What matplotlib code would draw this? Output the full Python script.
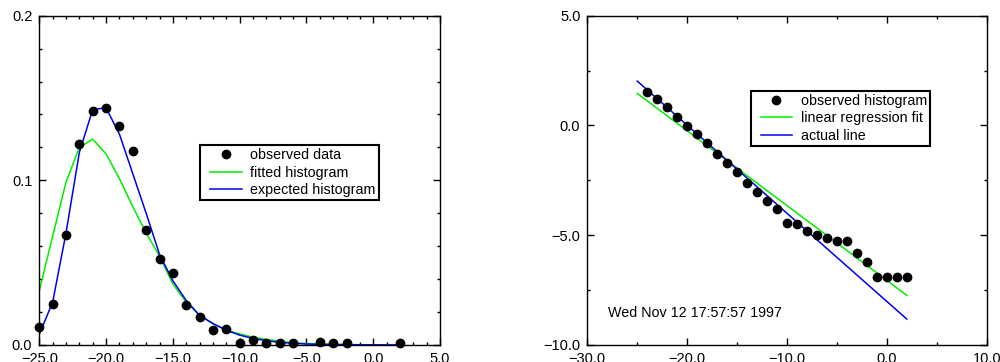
import numpy as np
import matplotlib
matplotlib.use("Agg")
import matplotlib.pyplot as plt
from matplotlib.ticker import MultipleLocator, FuncFormatter
from matplotlib.legend_handler import HandlerLine2D

plt.rcParams['font.family'] = ['Liberation Sans', 'DejaVu Sans']
plt.rcParams['font.size'] = 10

# left panel: histogram
hist_x = [-25, -24, -23, -22, -21, -20, -19, -18, -17, -16, -15, -14, -13, -12,
          -11, -10, -9, -8, -7, -6, -4, -3, -2, 2]
hist_obs = [0.011, 0.025, 0.067, 0.122, 0.142, 0.144, 0.133, 0.118, 0.070, 0.052,
            0.044, 0.024, 0.017, 0.009, 0.010, 0.001, 0.003, 0.001, 0.001, 0.001,
            0.002, 0.001, 0.001, 0.001]

curve_x = [-25, -24, -23, -22, -21, -20, -19, -18, -17, -16, -15, -14, -13, -12,
           -11, -10, -9, -8, -7, -6, -5, -4, -3, -2, -1, 0, 1, 2]
fitted = [0.033, 0.066, 0.099, 0.120, 0.125, 0.116, 0.101, 0.084, 0.068, 0.054,
          0.037, 0.026, 0.018, 0.013, 0.009, 0.0067, 0.0047, 0.0034, 0.0022, 0.0014,
          0.0009, 0.0006, 0.0004, 0.0003, 0.0002, 0.0001, 0.0001, 0.0001]
expected = [0.0065, 0.026, 0.068, 0.117, 0.143, 0.144, 0.128, 0.104, 0.080, 0.055,
            0.039, 0.027, 0.018, 0.013, 0.009, 0.006, 0.004, 0.0026, 0.0016, 0.001,
            0.0006, 0.0004, 0.0003, 0.0002, 0.0001, 0.0001, 0.0, 0.0]

# right panel: log histogram + lines
log_x = list(range(-24, 3))
log_obs = [1.51, 1.20, 0.83, 0.40, -0.01, -0.39, -0.81, -1.30, -1.70, -2.10,
           -2.61, -3.02, -3.46, -3.81, -4.43, -4.49, -4.81, -4.99, -5.13, -5.28,
           -5.28, -5.82, -6.20, -6.92, -6.92, -6.92, -6.92]
line_x = [-25, 2]
reg_fit = [1.46, -7.74]
actual = [2.02, -8.82]
stamp = "Wed Nov 12 17:57:57 1997"


class MarkerAtEnd(HandlerLine2D):
    # line starts a bit in from the frame, marker sits at the right end
    def get_xdata(self, legend, xdescent, ydescent, width, height, fontsize):
        return (np.array([-xdescent + 5, -xdescent + width]),
                np.array([-xdescent + width]))


def fmt(v, pos):
    return ("%.1f" % v).replace("-", "\u2212")


def style(ax, xmaj, xmin, ymaj, ymin):
    ax.xaxis.set_major_locator(MultipleLocator(xmaj))
    ax.xaxis.set_minor_locator(MultipleLocator(xmin))
    ax.yaxis.set_major_locator(MultipleLocator(ymaj))
    ax.yaxis.set_minor_locator(MultipleLocator(ymin))
    ax.xaxis.set_major_formatter(FuncFormatter(fmt))
    ax.yaxis.set_major_formatter(FuncFormatter(fmt))
    ax.tick_params(which='both', direction='in', top=True, right=True,
                   labelsize=10.5, width=1)
    ax.tick_params(which='major', length=5, pad=5)
    ax.tick_params(which='minor', length=2.5)
    for s in ax.spines.values():
        s.set_linewidth(1.0)


fig = plt.figure(figsize=(10, 3.62), dpi=100)
ax1 = fig.add_axes([0.0393, 0.047, 0.4007, 0.9097])
ax2 = fig.add_axes([0.5873, 0.047, 0.3994, 0.9097])

ax1.plot(hist_x, hist_obs, 'o', color='black', ms=6, label='observed data', clip_on=False, zorder=3)
ax1.plot(curve_x, fitted, color='#00ee00', lw=1.1, label='fitted histogram')
ax1.plot(curve_x, expected, color='#0000ee', lw=1.1, label='expected histogram')
ax1.set_xlim(-25, 5)
ax1.set_ylim(0, 0.2)
style(ax1, 5, 1, 0.1, 0.02)

ax2.plot(log_x, log_obs, 'o', color='black', ms=6, label='observed histogram', zorder=3)
ax2.plot(line_x, reg_fit, color='#00ee00', lw=1.1, label='linear regression fit')
ax2.plot(line_x, actual, color='#0000ee', lw=1.1, label='actual line')
ax2.set_xlim(-30, 10)
ax2.set_ylim(-10, 5)
style(ax2, 10, 5, 5, 2.5)
ax2.text(-27.9, -8.56, stamp, ha='left', va='center', fontsize=10.25)

for ax, anchor in [(ax1, (0.401, 0.607)), (ax2, (0.409, 0.772))]:
    leg = ax.legend(loc='upper left', bbox_to_anchor=anchor, borderaxespad=0,
                    numpoints=1, handlelength=2.7, handletextpad=0.6,
                    labelspacing=0.24, borderpad=0.22, fancybox=False,
                    framealpha=1, prop={'size': 10.25},
                    handler_map={matplotlib.lines.Line2D: MarkerAtEnd()})
    leg.get_frame().set_edgecolor('black')
    leg.get_frame().set_linewidth(1.5)

fig.savefig('out.png', dpi=100)
